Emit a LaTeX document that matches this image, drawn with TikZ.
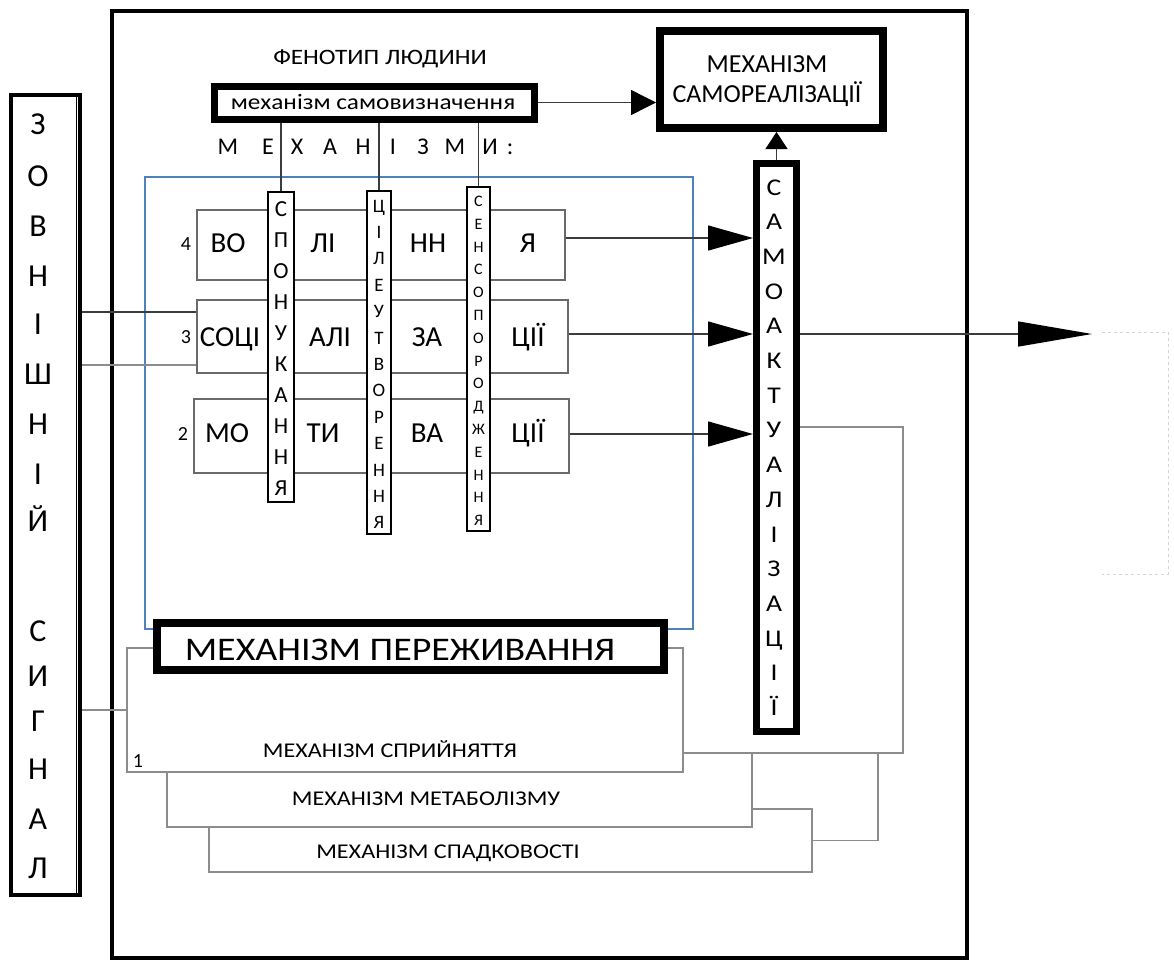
\documentclass[tikz,border=0pt]{standalone}
\usepackage{fontspec}
\setmainfont{Carlito}
\newfontfamily\widefont[FakeStretch=1.15]{Carlito}
\usetikzlibrary{arrows.meta}
\definecolor{boxgray}{HTML}{6A6A6A}
\definecolor{linegray}{HTML}{3C3C3C}
\definecolor{softgray}{HTML}{8C8C8C}
\definecolor{blueline}{HTML}{4F81BD}
\definecolor{dashgray}{HTML}{D4D4D4}
\newcommand\fsz[1]{\fontsize{#1}{#1}\selectfont}
\tikzset{
  lbl/.style={inner sep=0pt, anchor=base, font=\fsz{#1}},
  wlbl/.style={inner sep=0pt, anchor=base, font=\widefont\fsz{#1}},
  rowbox/.style={draw=boxgray, line width=1.4pt, inner sep=0pt},
  spinbox/.style={draw=black, line width=2.2pt, fill=white, inner sep=0pt},
  heavybox/.style={draw=black, line width=#1, fill=white, inner sep=0pt},
  mechbox/.style={draw=softgray, line width=1.4pt, fill=white, inner sep=0pt},
  conn/.style={draw=linegray, line width=1.4pt},
  thinconn/.style={draw=softgray, line width=1.3pt},
  bigtip/.style={-{Triangle[length=#1,width=25pt,color=black]}},
}
\begin{document}
\begin{tikzpicture}[x=1pt,y=-1pt]
\useasboundingbox (0,0) rectangle (1174,962);
% outer frame
\node[heavybox=4.5pt, minimum width=855pt, minimum height=947pt] (frame) at (539.5,484.5) {};
% external signal
\node[heavybox=4.5pt, minimum width=69pt, minimum height=800pt] (signal) at (45.5,495) {};
\draw[line width=1pt] (76,97) -- (76,893);
\foreach \ch/\yb [count=\i] in {З/134,О/186,В/236,Н/286,І/334,Ш/384,Н/434,І/484,Й/531,С/641,И/686,Г/731,Н/779,А/829,Л/878}
  \node[lbl=32] (sig\i) at (38,\yb) {\ch};

% blue frame
\node[draw=blueline, line width=1.2pt, minimum width=548pt, minimum height=452pt, inner sep=0pt] (blue) at (419,403) {};

% rows
\node[rowbox, minimum width=368pt, minimum height=70pt] (r4) at (381,245) {};
\node[rowbox, minimum width=371pt, minimum height=73pt] (r3) at (382.5,336.5) {};
\node[rowbox, minimum width=375pt, minimum height=74pt] (r2) at (381.5,436) {};
\foreach \tx/\xc [count=\i] in {ВО/228,ЛІ/323,НН/428,Я/528}
  \node[lbl=29] (w4\i) at (\xc,252) {\tx};
\foreach \tx/\xc [count=\i] in {СОЦІ/230,АЛІ/330,ЗА/427,ЦІЇ/528}
  \node[lbl=29] (w3\i) at (\xc,346) {\tx};
\foreach \tx/\xc [count=\i] in {МО/227,ТИ/323,ВА/427,ЦІЇ/528}
  \node[lbl=29] (w2\i) at (\xc,442) {\tx};
\node[lbl=20] (n4) at (186,250) {4};
\node[lbl=20] (n3) at (186,343) {3};
\node[lbl=20] (n2) at (183,440) {2};

% top box
\node[wlbl=22] (phen) at (380,64) {ФЕНОТИП ЛЮДИНИ};
\node[heavybox=7pt, minimum width=320pt, minimum height=33pt] (sv) at (374,102.5) {};
\node[wlbl=22] (svt) at (373,109) {механізм самовизначення};
\foreach \ch/\xc [count=\i] in {М/228,Е/268,Х/297,А/330,Н/363,І/393,З/423,М/455,И/490,:/510}
  \node[lbl=24] (mm\i) at (\xc,154) {\ch};

% spine boxes
\node[spinbox, minimum width=26pt, minimum height=310pt] (s1) at (281,347) {};
\node[spinbox, minimum width=24pt, minimum height=343pt] (s2) at (379,362.5) {};
\node[spinbox, minimum width=23pt, minimum height=344pt] (s3) at (478.5,359) {};
\draw[conn, line width=1.2pt] (sv.south -| s1.north) -- (s1.north);
\draw[conn, line width=1.2pt] (sv.south -| s2.north) -- (s2.north);
\draw[conn, line width=1.2pt] (sv.south -| s3.north) -- (s3.north);
\foreach \ch [count=\i from 0] in {С,П,О,Н,У,К,А,Н,Н,Я}
  \node[lbl=23] (a\i) at (281,216.5+31*\i) {\ch};
\foreach \ch [count=\i from 0] in {Ц,І,Л,Е,У,Т,В,О,Р,Е,Н,Н,Я}
  \node[lbl=19] (b\i) at (379,212+26.4*\i) {\ch};
\foreach \ch [count=\i from 0] in {С,Е,Н,С,О,П,О,Р,О,Д,Ж,Е,Н,Н,Я}
  \node[lbl=16] (c\i) at (478.5,206.5+22.8*\i) {\ch};

% self-realisation box
\node[heavybox=8pt, minimum width=223pt, minimum height=97pt] (sr) at (771.5,79.5) {};
\node[lbl=26] (srt1) at (767,72) {МЕХАНІЗМ};
\node[lbl=26] (srt2) at (767,102) {САМОРЕАЛІЗАЦІЇ};
\draw[conn, bigtip=25pt] (sv.east) -- (sv.east -| sr.west);

% self-actualisation box
\node[heavybox=7pt, minimum width=40pt, minimum height=568pt] (sa) at (776.5,447.5) {};
\foreach \ch [count=\i from 0] in {С,А,М,О,А,К,Т,У,А,Л,І,З,А,Ц,І,Ї}
  \node[wlbl=24] (d\i) at (774,195+34.7*\i) {\ch};
\draw[conn, -{Triangle[length=17pt,width=22pt,color=black]}] (sa.north) -- (sa.north |- sr.south);

% arrows into self-actualisation
\coordinate (a4) at ([yshift=7pt]r4.east);
\coordinate (a3) at ([yshift=2.5pt]r3.east);
\coordinate (a2) at ([yshift=2pt]r2.east);
\draw[conn, bigtip=45pt] (a4) -- (a4 -| sa.west);
\draw[conn, bigtip=45pt] (a3) -- (a3 -| sa.west);
\draw[conn, bigtip=45pt] (a2) -- (a2 -| sa.west);

% output
\coordinate (outend) at (1092,334);
\draw[conn, bigtip=74pt] (sa.east |- outend) -- (outend);
\draw[dashgray, dashed, line width=1pt] (1102,332) -- (1168,332) -- (1168,574) -- (1102,574);

% lower mechanism boxes
\node[mechbox, minimum width=603pt, minimum height=63pt] (spad) at (510.5,840.5) {};
\node[mechbox, minimum width=585pt, minimum height=74pt] (meta) at (459.5,790) {};
\node[mechbox, minimum width=556pt, minimum height=124pt] (perc) at (405,710) {};
\node[heavybox=8pt, minimum width=507pt, minimum height=47pt] (exp) at (410.5,646.5) {};
\node[wlbl=33] (expt) at (400,660) {МЕХАНІЗМ ПЕРЕЖИВАННЯ};
\node[wlbl=21] (perct) at (390,757) {МЕХАНІЗМ СПРИЙНЯТТЯ};
\node[wlbl=21] (metat) at (426,805) {МЕХАНІЗМ МЕТАБОЛІЗМУ};
\node[wlbl=21] (spadt) at (448,858) {МЕХАНІЗМ СПАДКОВОСТІ};
\node[lbl=20] (one) at (138,767) {1};

% feedback lines
\coordinate (fb1) at (903,427);
\coordinate (fb2) at (903,753);
\coordinate (fb3) at (878,753);
\draw[thinconn] (sa.east |- fb1) -- (fb1) -- (fb2) -- (fb2 -| perc.east);
\draw[thinconn] (fb3) |- (spad.east);

% input lines from the external signal
\coordinate (l1) at (0,312);
\coordinate (l2) at (0,365);
\draw[conn, line width=1.2pt] (signal.east |- l1) -- (r3.west |- l1);
\draw[thinconn, line width=1.2pt] (signal.east |- l2) -- (r3.west |- l2);
\draw[thinconn, line width=1.2pt] (signal.east |- perc.west) -- (perc.west);
\end{tikzpicture}
\end{document}
